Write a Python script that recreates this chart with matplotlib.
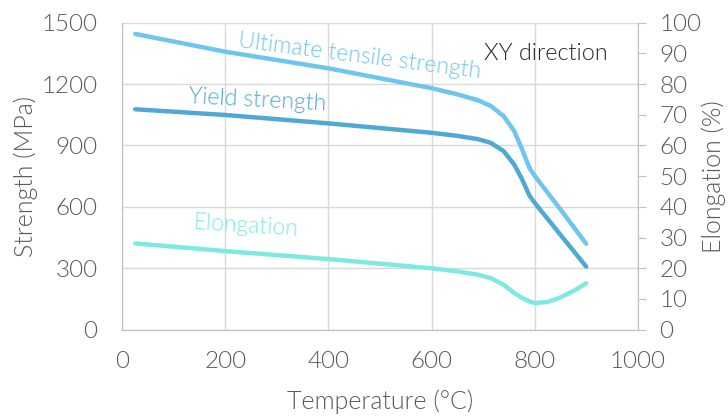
import matplotlib
matplotlib.use('Agg')
import matplotlib.pyplot as plt

plt.rcParams['font.family'] = ['Lato', 'DejaVu Sans']
plt.rcParams['font.weight'] = 300
plt.rcParams['axes.labelweight'] = 300

# 값은 그림에서 읽음
temp = [25, 200, 400, 600, 650, 690, 715, 740, 760, 775, 790, 800, 825, 850, 875, 900]
uts = [1445, 1358, 1277, 1180, 1150, 1121, 1093, 1043, 972, 885, 790, 752, 670, 588, 504, 420]
yield_s = [1077, 1049, 1008, 962, 947, 931, 913, 872, 808, 738, 655, 620, 542, 464, 386, 308]
elong = [28.1, 25.6, 23.0, 20.0, 19.0, 17.9, 16.8, 14.6, 12.0, 10.4, 9.2, 8.7, 9.0, 10.5, 12.6, 15.1]

x_ticks = [0, 200, 400, 600, 800, 1000]
y_ticks = [0, 300, 600, 900, 1200, 1500]
y2_ticks = list(range(0, 101, 10))

c_uts = '#6ec6ef'
c_ys = '#4eaad4'
c_el = '#7eeadf'
grey = '#595959'

fig = plt.figure(figsize=(7.28, 4.16), dpi=100)
ax = fig.add_axes([0.168, 0.2075, 0.708, 0.738])
ax2 = ax.twinx()

ax.plot(temp, uts, color=c_uts, lw=3.2, solid_capstyle='round', solid_joinstyle='round')
ax.plot(temp, yield_s, color=c_ys, lw=3.2, solid_capstyle='round', solid_joinstyle='round')
ax2.plot(temp, elong, color=c_el, lw=3.2, solid_capstyle='round', solid_joinstyle='round')

ax.set_xlim(0, 1000)
ax.set_ylim(0, 1500)
ax2.set_ylim(0, 100)
ax.set_xticks(x_ticks)
ax.set_yticks(y_ticks)
ax2.set_yticks(y2_ticks)

ax.grid(True, color='#d9d9d9', lw=1)
ax.set_axisbelow(True)
for a in (ax, ax2):
    for s in ['top', 'left', 'bottom', 'right']:
        a.spines[s].set_visible(False)
ax.spines['left'].set_visible(True)
ax.spines['bottom'].set_visible(True)
ax.spines['left'].set_color('#bfbfbf')
ax.spines['bottom'].set_color('#bfbfbf')
ax2.spines['right'].set_visible(True)
ax2.spines['right'].set_color('#bfbfbf')

ax.tick_params(axis='x', length=0, pad=15, labelsize=17.5, labelcolor=grey)
ax.tick_params(axis='y', length=0, pad=18, labelsize=17.5, labelcolor=grey)
ax2.tick_params(axis='y', length=5.5, color='#bfbfbf', pad=10, labelsize=17.5, labelcolor=grey)

ax.set_xlabel('Temperature (°C)', fontsize=18, color=grey, labelpad=13)
ax.set_ylabel('Strength (MPa)', fontsize=18, color=grey, labelpad=2)
ax2.set_ylabel('Elongation (%)', fontsize=18, color=grey, labelpad=0)

lab = dict(fontsize=16.6, rotation_mode='anchor', ha='left', va='baseline')
ax.text(224, 1382, 'Ultimate tensile strength', color=c_uts, rotation=-7.3, **lab)
ax.text(128, 1107, 'Yield strength', color=c_ys, rotation=-3.1, **lab)
ax.text(136, 490, 'Elongation', color=c_el, rotation=-3.7, **lab)
ax.text(702, 1318, 'XY direction', color='#262626', fontsize=16.8, va='baseline')

plt.savefig('out.png', dpi=100)
